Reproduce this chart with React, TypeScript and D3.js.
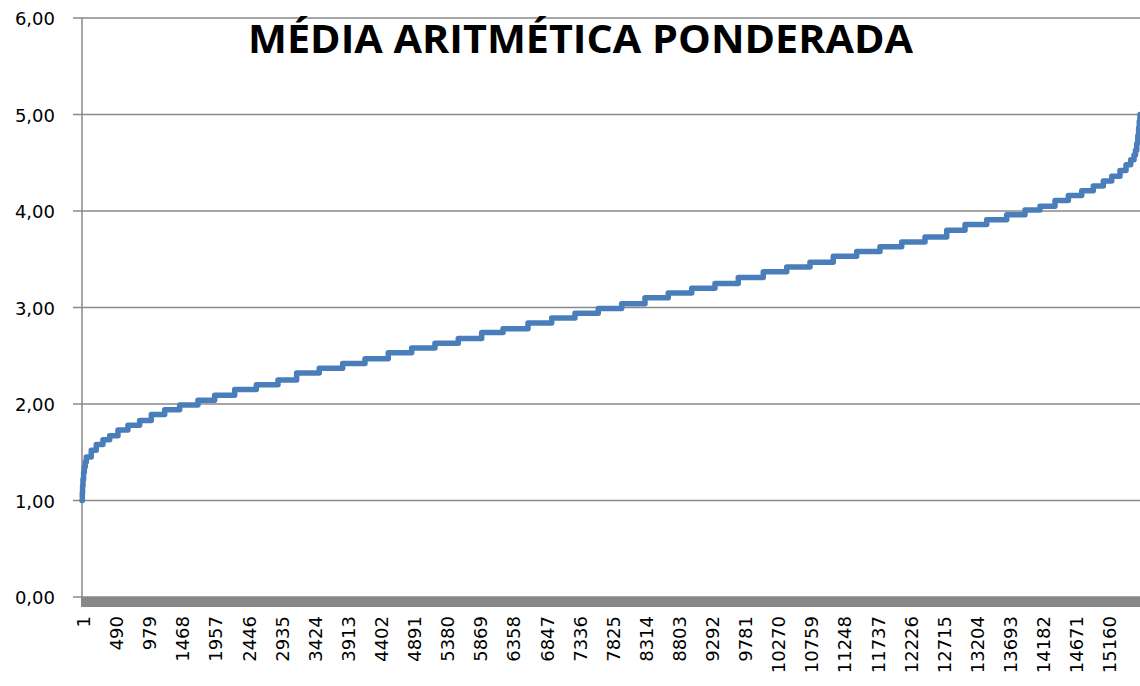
import * as d3 from "d3";
import React from "react";

const title = "MÉDIA ARITMÉTICA PONDERADA";
const totalCount = 15627;

// each step of the sorted curve: the rank where it starts and its value
const levelStarts = [
  1, 5, 9, 15, 24, 35, 49, 64, 137, 211, 310, 409, 532, 679, 852, 1024, 1222, 1443,
  1713, 1960, 2256, 2575, 2895, 3171, 3505, 3851, 4180, 4524, 4870, 5214, 5558, 5904,
  6219, 6588, 6938, 7282, 7626, 7972, 8316, 8660, 9006, 9350, 9694, 10063, 10409,
  10753, 11097, 11443, 11787, 12108, 12452, 12773, 13043, 13363, 13659, 13929, 14151,
  14372, 14569, 14767, 14938, 15086, 15210, 15332, 15421, 15490, 15539, 15561, 15580,
  15595, 15607, 15617, 15627,
];
const levelValues = [
  1.0, 1.08, 1.15, 1.22, 1.29, 1.35, 1.4, 1.45, 1.52, 1.58, 1.63, 1.67, 1.73, 1.78, 1.83,
  1.89, 1.94, 1.99, 2.04, 2.09, 2.15, 2.2, 2.25, 2.32, 2.37, 2.42, 2.47, 2.53, 2.58, 2.63,
  2.68, 2.74, 2.78, 2.84, 2.89, 2.94, 2.99, 3.04, 3.1, 3.15, 3.2, 3.25, 3.31, 3.37, 3.42,
  3.47, 3.53, 3.58, 3.63, 3.68, 3.73, 3.8, 3.86, 3.91, 3.96, 4.01, 4.05, 4.11, 4.16, 4.21,
  4.26, 4.31, 4.36, 4.42, 4.48, 4.53, 4.58, 4.63, 4.7, 4.78, 4.86, 4.93, 5.0,
];

const xTickLabels = [
  1, 490, 979, 1468, 1957, 2446, 2935, 3424, 3913, 4402, 4891, 5380, 5869, 6358, 6847,
  7336, 7825, 8314, 8803, 9292, 9781, 10270, 10759, 11248, 11737, 12226, 12715, 13204,
  13693, 14182, 14671, 15160,
];
const yTicks = [0, 1, 2, 3, 4, 5, 6];

const width = 1140;
const height = 686;
const margin = { top: 18, right: 0, bottom: 89, left: 82 };
const gridColor = "#898989";
const font = "'DejaVu Sans', sans-serif";

export default function App() {
  const x = d3
    .scaleLinear()
    .domain([0.5, totalCount + 0.5])
    .range([margin.left, width - margin.right]);
  const y = d3
    .scaleLinear()
    .domain([0, 6])
    .range([height - margin.bottom, margin.top]);

  const points: [number, number][] = levelStarts.map((s, i) => [s, levelValues[i]]);
  const line = d3
    .line<[number, number]>()
    .x((d) => x(d[0]))
    .y((d) => y(d[1]))
    .curve(d3.curveStepAfter);

  const fmt = (v: number) => d3.format(".2f")(v).replace(".", ",");
  const y0 = y(0);

  return (
    <svg
      width={width}
      height={height}
      style={{ position: "absolute", left: 0, top: 0, background: "#fff" }}
    >
      {yTicks.map((t) => (
        <g key={t}>
          <line
            x1={margin.left - 9}
            x2={width - margin.right}
            y1={y(t)}
            y2={y(t)}
            stroke={gridColor}
            strokeWidth={1.5}
          />
          <text
            x={margin.left - 27}
            y={y(t) + 7}
            textAnchor="end"
            fontFamily={font}
            fontSize={18}
            fill="#000"
          >
            {fmt(t)}
          </text>
        </g>
      ))}
      <line
        x1={margin.left}
        x2={margin.left}
        y1={y(6)}
        y2={y0}
        stroke={gridColor}
        strokeWidth={1.5}
      />
      {/* dense category tick marks merge into a solid band */}
      <rect
        x={margin.left - 1}
        y={y0}
        width={width - margin.right - margin.left + 1}
        height={10}
        fill="#888888"
      />
      {xTickLabels.map((t) => (
        <text
          key={t}
          transform={`translate(${x(t) + 1.5},${y0 + 19}) rotate(-90)`}
          textAnchor="end"
          dy="0.36em"
          fontFamily={font}
          fontSize={18}
          fill="#000"
        >
          {t}
        </text>
      ))}
      <path
        d={line(points) ?? ""}
        fill="none"
        stroke="#4a7ebb"
        strokeWidth={5.5}
        strokeLinejoin="round"
        strokeLinecap="round"
      />
      <text
        x={580.5}
        y={53}
        textAnchor="middle"
        fontFamily="'Open Sans', sans-serif"
        fontWeight={700}
        fontSize={39}
        textLength={665}
        lengthAdjust="spacingAndGlyphs"
        fill="#000"
      >
        {title}
      </text>
    </svg>
  );
}
